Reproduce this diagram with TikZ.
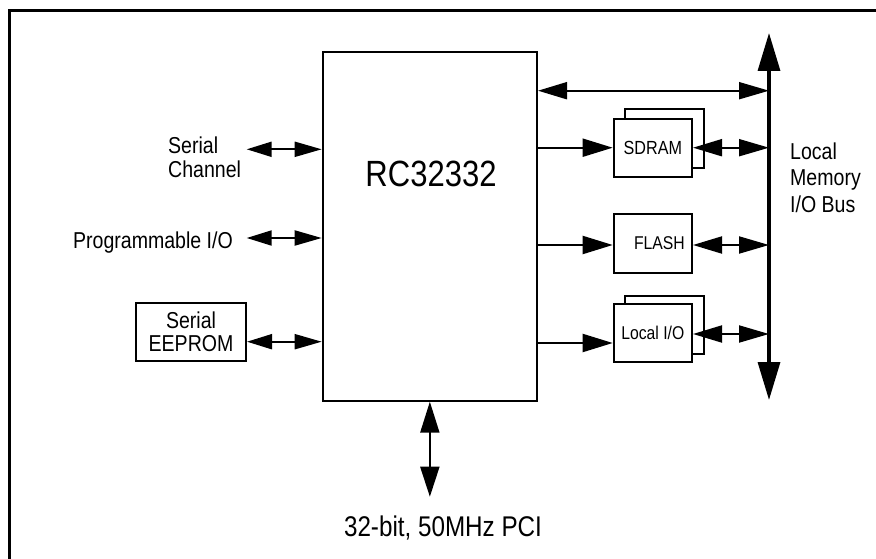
\documentclass[tikz,border=0pt]{standalone}
\usepackage{fontspec}
\setmainfont{Liberation Sans}
\newfontfamily\nf[FakeStretch=0.85]{Liberation Sans}
\usetikzlibrary{arrows.meta}
\newcommand{\fsz}[2]{\fontsize{#1}{#2}\selectfont}
\tikzset{
  box/.style={draw, line width=2pt, fill=white, inner sep=0pt},
  lbl/.style={inner sep=0pt, font=\nf\fsz{23pt}{23.5pt}},
  conn/.style={line width=2pt},
  dblS/.style={{Triangle[length=25pt,width=15pt]}-{Triangle[length=27pt,width=15pt]}},
  dblM/.style={{Triangle[length=29pt,width=17pt]}-{Triangle[length=30pt,width=17pt]}},
  oneM/.style={-{Triangle[length=30pt,width=18pt]}},
}
\begin{document}
\begin{tikzpicture}[x=1pt,y=-1pt]
\useasboundingbox (0,0) rectangle (876,559);
% frame
\draw[line width=3pt] (9.5,600) -- (9.5,10.5) -- (900,10.5);

% main chip
\node[box, minimum width=214.3pt, minimum height=348.7pt] (main) at (429.85,226.35) {};
\node[inner sep=0pt, font=\nf\fsz{36.5pt}{40pt}, anchor=base] (rc) at (431,186.7) {RC32332};

% bus
\coordinate (bustop) at (769,33);
\coordinate (busbot) at (769,400);
\draw[line width=3.3pt, {Triangle[length=38pt,width=22pt]}-{Triangle[length=38pt,width=22pt]}] (bustop) -- (busbot);
\node[lbl, anchor=west, align=left, font=\nf\fsz{23pt}{26.5pt}] (busl) at (790,177.5) {Local\\Memory\\I/O Bus};

% back boxes
\node[box, minimum width=79pt, minimum height=58.7pt] (sdramb) at (664.5,138.35) {};
\node[box, minimum width=79pt, minimum height=58.3pt] (liob) at (664.5,324.85) {};
% front boxes
\node[box, minimum width=78.3pt, minimum height=58pt, font=\nf\fsz{19pt}{20pt}] (sdram) at (652.85,147.7) {SDRAM};
\node[box, minimum width=78.3pt, minimum height=58.7pt, font=\nf\fsz{18.5pt}{20pt}] (flash) at (652.85,243.35) {\hspace*{13pt}FLASH};
\node[box, minimum width=78.3pt, minimum height=58pt, font=\nf\fsz{18.5pt}{20pt}] (lio) at (652.85,333) {Local I/O};

% top double arrow
\draw[conn, dblM] (main.east |- 0,90.7) -- (bustop |- 0,90.7);
% main to boxes
\draw[conn, oneM] (main.east |- sdram) -- (sdram.west);
\draw[conn, oneM] (main.east |- 0,245) -- (flash.west |- 0,245);
\draw[conn, oneM] (main.east |- 0,343) -- (lio.west |- 0,343);
% boxes to bus
\draw[conn, dblM] (sdram.east) -- (sdram.east -| bustop);
\draw[conn, dblM] (flash.east |- 0,245) -- (bustop |- 0,245);
\draw[conn, dblM] (lio.east |- 0,334) -- (bustop |- 0,334);

% left side
\node[lbl, anchor=west, align=left] (sc) at (168,157.2) {Serial\\Channel};
\node[lbl, anchor=base east] (pio) at (233,248.3) {Programmable I/O};
\node[box, minimum width=110pt, minimum height=57.7pt, align=center, font=\nf\fsz{23pt}{23.5pt}] (eep) at (191,331.8) {Serial\\EEPROM};
\coordinate (scs) at (246.7,149.3);
\coordinate (pios) at (246.7,238);
\draw[conn, dblS] (scs) -- (main.west |- scs);
\draw[conn, dblS] (pios) -- (main.west |- pios);
\draw[conn, dblS] (eep.east |- 0,341.7) -- (main.west |- 0,341.7);

% PCI
\coordinate (pcie) at (429.85,496.7);
\draw[conn, {Triangle[length=31pt,width=19pt]}-{Triangle[length=30pt,width=19pt]}] (main.south) -- (pcie);
\node[inner sep=0pt, anchor=base, font=\nf\fsz{28.5pt}{30pt}] (pci) at (443,536) {32-bit, 50MHz PCI};
\end{tikzpicture}
\end{document}
